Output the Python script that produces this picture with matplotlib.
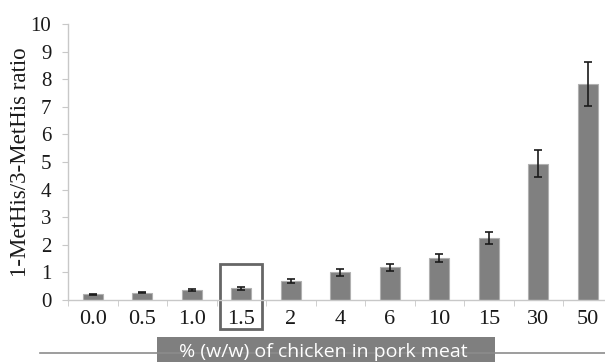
import matplotlib.pyplot as plt
from matplotlib.patches import Rectangle
from matplotlib.lines import Line2D
import numpy as np

# data
categories = ['0.0', '0.5', '1.0', '1.5', '2', '4', '6', '10', '15', '30', '50']
ratio = [0.20, 0.27, 0.36, 0.43, 0.69, 1.01, 1.18, 1.52, 2.25, 4.94, 7.83]
ratio_err = [0.03, 0.03, 0.05, 0.05, 0.08, 0.13, 0.13, 0.16, 0.23, 0.50, 0.80]
highlight = '1.5'

plt.rcParams['font.family'] = ['Liberation Serif', 'DejaVu Serif']
sans = ['Open Sans', 'DejaVu Sans']

fig = plt.figure(figsize=(6.05, 3.62), dpi=100)
ax = fig.add_axes([68 / 605, 62 / 362, 544.5 / 605, 276 / 362])

x = np.arange(len(categories))
ax.bar(x, ratio, width=0.4, color='#808080', edgecolor='#b0b0b0', linewidth=0.8,
       yerr=ratio_err, error_kw=dict(ecolor='#1a1a1a', elinewidth=1.2, capsize=3, capthick=1.2))

ax.set_xlim(-0.5, len(categories) - 0.5)
ax.set_ylim(0, 10)
ax.set_yticks(range(0, 11))
ax.set_xticks(x)
ax.set_xticklabels(categories)
ax.set_xticks(np.arange(-0.5, len(categories)), minor=True)

for s in ['top', 'right']:
    ax.spines[s].set_visible(False)
for s in ['left', 'bottom']:
    ax.spines[s].set_color('#c8c8c8')
    ax.spines[s].set_linewidth(1.0)

ax.tick_params(axis='x', which='major', length=0, pad=7, labelsize=16, labelcolor='#1a1a1a')
ax.tick_params(axis='x', which='minor', length=4, color='#c8c8c8', direction='out')
ax.tick_params(axis='y', length=4, color='#c8c8c8', pad=8, labelsize=15, labelcolor='#1a1a1a')

ax.set_ylabel('1-MetHis/3-MetHis ratio', fontsize=16.5, color='#1a1a1a')
ax.yaxis.set_label_coords(-37 / 544.5, 0.5)

# box around the highlighted category
hi = categories.index(highlight)
ax.add_patch(Rectangle((hi - 0.42, -1.05), 0.84, 2.35, fill=False, edgecolor='#666666',
                       linewidth=2, clip_on=False))

# x-axis title in a gray banner with a line through it
fig.add_artist(Line2D([40 / 605, 1.0], [1 - 353 / 362] * 2, color='#8c8c8c', linewidth=1.2))
fig.add_artist(Rectangle((157 / 605, 0), (495 - 157) / 605, 25 / 362, transform=fig.transFigure,
                         facecolor='#7f7f7f', edgecolor='none'))
fig.text(323 / 605, 5 / 362, '% (w/w) of chicken in pork meat', family=sans, fontsize=14,
         color='white', ha='center', va='baseline')

fig.savefig('out.png', dpi=100)
